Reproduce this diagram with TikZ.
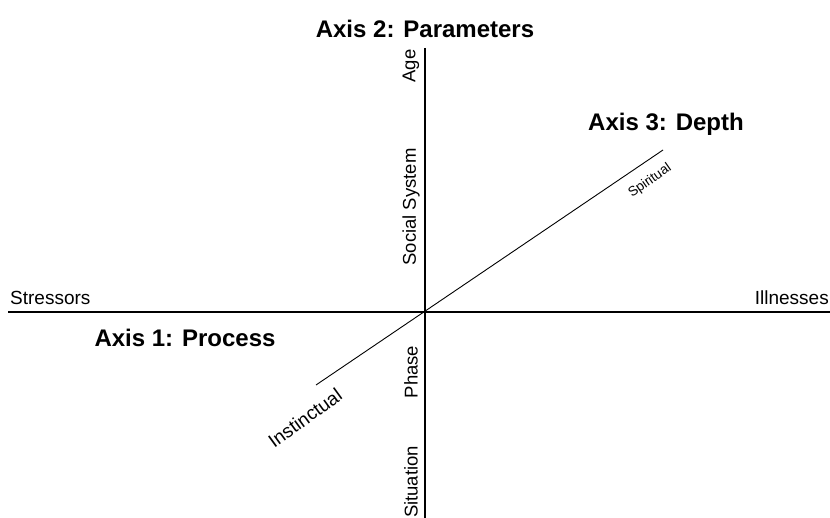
\documentclass[tikz,border=0pt]{standalone}
\usepackage{fontspec}
\setmainfont{Liberation Sans}
\usetikzlibrary{calc,positioning}

\tikzset{
  axislbl/.style={font=\fontsize{24}{28}\selectfont\bfseries, inner sep=0pt},
  pole/.style={font=\fontsize{19}{22}\selectfont, inner sep=0pt},
  tick/.style={font=\fontsize{18.5}{22}\selectfont, inner sep=0pt, rotate=90},
}

\begin{document}
\begin{tikzpicture}[x=1pt,y=-1pt]
  \useasboundingbox (0,0) rectangle (830,518);
  % axes
  \coordinate (O) at (425,312);
  \coordinate (W) at (8,312);
  \coordinate (E) at (830,312);
  \coordinate (N) at (425,48);
  \coordinate (S) at (425,518);
  \coordinate (SW) at (316,385);
  \coordinate (NE) at (663,150);
  \draw[line width=1.2pt] (W)--(E);
  \draw[line width=1.2pt] (N)--(S);
  \draw[line width=0.9pt] (SW)--(NE);
  % axis titles
  \node[axislbl] (ax2) at (425,29) {Axis 2: Parameters};
  \node[axislbl] (ax1) at (185,338) {Axis 1: Process};
  \node[axislbl] (ax3) at (666,124) {Axis 3: Depth};
  % poles
  \node[pole, anchor=west] (stress) at (10,298) {Stressors};
  \node[pole, anchor=east] (ill) at (829,298) {Illnesses};
  \node[tick] (age) at (411,66) {Age};
  \node[tick] (social) at (411,207) {Social System};
  \node[tick] (phase) at (411,372) {Phase};
  \node[tick] (situ) at (411,482) {Situation};
  \node[pole, rotate=36] (instinct) at (305,418) {Instinctual};
  \node[font=\fontsize{13.5}{16}\selectfont, inner sep=0pt, rotate=35] (spirit) at (650,181) {Spiritual};
\end{tikzpicture}
\end{document}
